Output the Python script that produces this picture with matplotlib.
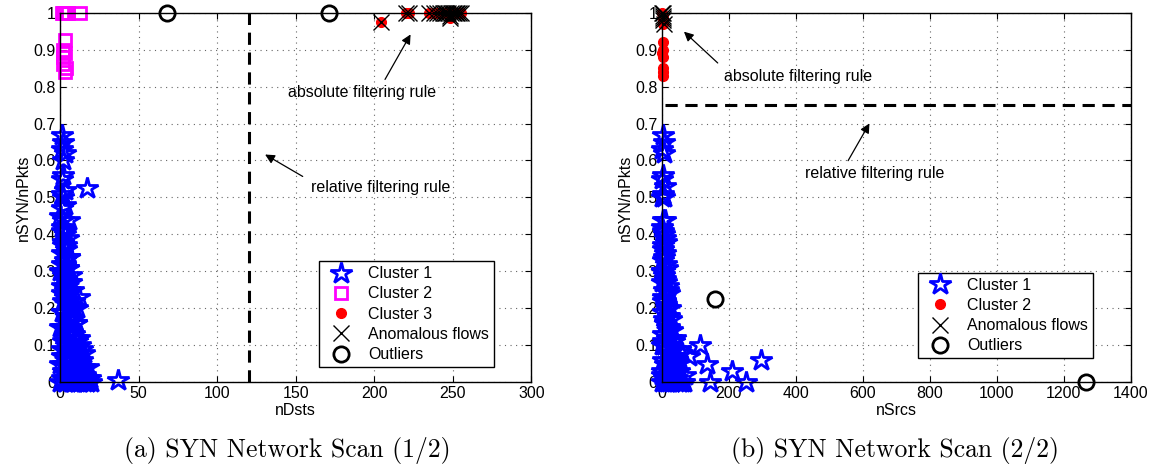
import matplotlib.pyplot as plt
from matplotlib.lines import Line2D

plt.rcParams['font.family'] = ['Liberation Sans', 'DejaVu Sans']
plt.rcParams['font.size'] = 11.5

# ---- panel (a): nDsts vs nSYN/nPkts ----
a_c1_x = [1, 2, 1, 3, 2, 1, 3, 1, 2, 17, 2, 6, 1, 3, 2, 4, 1, 3, 5, 2, 4, 7, 1, 3, 6, 12, 2, 5,
          9, 11, 1, 4, 7, 10, 2, 6, 9, 12, 3, 8, 13, 1, 5, 10, 14, 2, 7, 11, 16, 19, 4, 8, 13,
          37, 0, 1, 2, 0, 0, 0, 15, 12, 6, 3, 5, 8, 10, 0, 4, 6, 9, 17, 18, 14, 3,
          1, 3, 5, 2, 4, 6, 1, 3, 5, 7, 2, 4, 6, 8, 1, 3, 5, 7, 9, 2, 4, 6, 8, 10, 1, 3, 5,
          7, 9, 11, 2, 4, 6, 8, 10, 12, 1, 3, 5, 7, 9, 11, 13, 15, 2, 4, 6, 8, 10, 12, 14, 16,
          18, 1, 3, 5, 7, 9, 11, 13, 15, 17, 20, 4, 8, 12]
a_c1_y = [0.67, 0.65, 0.63, 0.62, 0.56, 0.55, 0.52, 0.51, 0.50, 0.525, 0.44, 0.44, 0.42, 0.40,
          0.38, 0.36, 0.35, 0.33, 0.31, 0.30, 0.28, 0.27, 0.26, 0.25, 0.24, 0.23, 0.22, 0.21,
          0.20, 0.20, 0.19, 0.18, 0.17, 0.16, 0.15, 0.14, 0.13, 0.12, 0.11, 0.10, 0.10, 0.09,
          0.08, 0.07, 0.06, 0.05, 0.04, 0.03, 0.02, 0.01, 0.01, 0.0, 0.0, 0.005, 0.0, 0.47,
          0.60, 0.45, 0.30, 0.15, 0.08, 0.04, 0.06, 0.0, 0.02, 0.05, 0.12, 0.05, 0.26, 0.34,
          0.22, 0.0, 0.04, 0.09, 0.48,
          0.41, 0.41, 0.39, 0.37, 0.37, 0.34, 0.32, 0.32, 0.31, 0.29, 0.29, 0.28, 0.27, 0.25,
          0.24, 0.23, 0.22, 0.21, 0.20, 0.19, 0.18, 0.18, 0.17, 0.16, 0.15, 0.14, 0.13, 0.13,
          0.12, 0.11, 0.11, 0.10, 0.09, 0.09, 0.08, 0.08, 0.07, 0.07, 0.06, 0.06, 0.05, 0.05,
          0.04, 0.04, 0.03, 0.03, 0.03, 0.02, 0.02, 0.02, 0.02, 0.01, 0.01, 0.01, 0.01, 0.01,
          0.0, 0.0, 0.0, 0.0, 0.0, 0.0, 0.0, 0.0, 0.0, 0.01]
a_c2_x = [1, 2, 3, 4, 5, 13, 3, 2, 3, 2, 4, 3, 2]
a_c2_y = [1.0, 1.0, 1.0, 1.0, 1.0, 1.0, 0.925, 0.90, 0.89, 0.88, 0.85, 0.84, 0.86]
a_c3_x = [204, 220, 222, 235, 238, 240, 242, 244, 245, 246, 247, 248, 249, 250, 251, 252, 253,
          254, 255, 248]
a_c3_y = [0.975, 1.0, 1.0, 1.0, 1.0, 1.0, 1.0, 1.0, 1.0, 1.0, 1.0, 0.99, 1.0, 1.0, 1.0, 1.0,
          1.0, 1.0, 1.0, 0.985]
a_out_x = [68, 171]
a_out_y = [1.0, 1.0]
a_rule_x = 120

# ---- panel (b): nSrcs vs nSYN/nPkts ----
b_c1_x = [3, 6, 2, 8, 5, 2, 9, 3, 6, 4, 10, 2, 7, 12, 4, 9, 3, 14, 6, 11, 2, 17, 8, 20, 5, 13,
          24, 3, 18, 27, 9, 22, 30, 4, 15, 35, 26, 7, 40, 19, 33, 45, 11, 28, 50, 2, 38, 55, 16,
          60, 80, 115, 135, 145, 210, 250, 295, 65, 30, 45, 10, 0, 0, 0, 1, 40, 55, 20, 70,
          5, 10, 3, 8, 13, 2, 7, 12, 17, 4, 9, 14, 20, 6, 11, 16, 22, 28, 3, 8, 14, 20, 26,
          32, 5, 12, 18, 25, 32, 40, 2, 9, 16, 24, 34, 44, 6, 14, 22, 31, 42, 52, 60]
b_c1_y = [0.67, 0.65, 0.63, 0.62, 0.56, 0.55, 0.53, 0.51, 0.50, 0.44, 0.44, 0.42, 0.40, 0.38,
          0.36, 0.35, 0.33, 0.31, 0.30, 0.28, 0.27, 0.26, 0.25, 0.24, 0.22, 0.21, 0.20, 0.19,
          0.18, 0.17, 0.16, 0.15, 0.14, 0.13, 0.12, 0.11, 0.10, 0.10, 0.09, 0.08, 0.07, 0.06,
          0.05, 0.04, 0.03, 0.02, 0.01, 0.0, 0.0, 0.08, 0.07, 0.10, 0.05, 0.0, 0.03, 0.0, 0.06,
          0.0, 0.0, 0.05, 0.0, 0.5, 0.3, 0.1, 0.0, 0.12, 0.09, 0.06, 0.02,
          0.41, 0.39, 0.37, 0.34, 0.32, 0.30, 0.29, 0.27, 0.25, 0.23, 0.22, 0.20, 0.18, 0.17,
          0.16, 0.15, 0.14, 0.12, 0.11, 0.10, 0.09, 0.08, 0.07, 0.06, 0.06, 0.05, 0.05, 0.04,
          0.04, 0.03, 0.03, 0.02, 0.02, 0.02, 0.01, 0.01, 0.01, 0.01, 0.0, 0.0, 0.0, 0.0, 0.0]
b_c2_x = [3, 5, 4, 2, 3, 4, 3, 2, 3, 5, 4]
b_c2_y = [0.92, 0.90, 0.88, 0.89, 0.85, 0.84, 0.83, 1.0, 0.99, 0.98, 0.97]
b_an_x = [2, 4, 3, 5, 6, 3]
b_an_y = [1.0, 1.0, 0.99, 0.98, 0.97, 0.985]
b_out_x = [160, 1265]
b_out_y = [0.225, 0.0]
b_rule_y = 0.75

yticks = [0, 0.1, 0.2, 0.3, 0.4, 0.5, 0.6, 0.7, 0.8, 0.9, 1]
ylabels = ['0', '0.1', '0.2', '0.3', '0.4', '0.5', '0.6', '0.7', '0.8', '0.9', '1']

star = dict(marker='*', ms=16, mfc='none', mec='#0000ff', mew=2, ls='none', clip_on=False)
square = dict(marker='s', ms=9, mfc='none', mec='#ff00ff', mew=2, ls='none', clip_on=False)
dot = dict(marker='o', ms=7, mfc='#ff0000', mec='#ff0000', ls='none', clip_on=False)
cross = dict(marker='x', ms=11, mec='black', mew=1, ls='none', clip_on=False)
circ = dict(marker='o', ms=11, mfc='none', mec='black', mew=2, ls='none', clip_on=False)

fig = plt.figure(figsize=(11.55, 4.74), dpi=100)
ax1 = fig.add_axes([0.052, 0.194, 0.408, 0.779])
ax2 = fig.add_axes([0.573, 0.194, 0.406, 0.779])


def style(ax, xmax, xstep, xlabel):
    ax.set_xlim(0, xmax)
    ax.set_ylim(0, 1)
    ax.set_xticks(range(0, xmax + 1, xstep))
    ax.set_yticks(yticks)
    ax.set_yticklabels(ylabels)
    ax.grid(True, ls=(0, (1, 4)), color='0.4', lw=0.8)
    ax.set_axisbelow(True)
    ax.tick_params(direction='in', top=True, right=True, length=4, pad=3)
    ax.set_xlabel(xlabel, labelpad=1)
    ax.set_ylabel('nSYN/nPkts', labelpad=2)
    for s in ax.spines.values():
        s.set_linewidth(1)


arrow = dict(arrowstyle='-|>', color='black', lw=0.9, mutation_scale=14)
leg_kw = dict(loc='lower right', fancybox=False, edgecolor='black', framealpha=1,
              borderpad=0.3, labelspacing=0.33, handletextpad=0.6, handlelength=2.2)

# panel (a)
ax1.plot(a_c1_x, a_c1_y, **star)
ax1.plot(a_c2_x, a_c2_y, **square)
ax1.plot(a_c3_x, a_c3_y, **dot)
ax1.plot(a_c3_x, a_c3_y, **cross)
ax1.plot(a_out_x, a_out_y, **circ)
ax1.axvline(a_rule_x, color='black', lw=2.2, ls=(0, (4, 2.5)))
style(ax1, 300, 50, 'nDsts')
ax1.annotate('', xy=(129, 0.62), xytext=(156, 0.553), arrowprops=arrow)
ax1.text(204, 0.526, 'relative filtering rule', ha='center', va='center')
ax1.annotate('', xy=(224, 0.948), xytext=(206, 0.813), arrowprops=arrow)
ax1.text(192, 0.783, 'absolute filtering rule', ha='center', va='center')

h1 = [Line2D([], [], **star), Line2D([], [], **square), Line2D([], [], **dot),
      Line2D([], [], **cross), Line2D([], [], **circ)]
leg = ax1.legend(h1, ['Cluster 1', 'Cluster 2', 'Cluster 3', 'Anomalous flows', 'Outliers'],
                 bbox_to_anchor=(0.938, 0.019), **leg_kw)
leg.get_frame().set_linewidth(1)

# panel (b)
ax2.plot(b_c1_x, b_c1_y, **star)
ax2.plot(b_c2_x, b_c2_y, **dot)
ax2.plot(b_an_x, b_an_y, **cross)
ax2.plot(b_out_x, b_out_y, **circ)
ax2.plot([10, 1400], [b_rule_y, b_rule_y], color='black', lw=2.2, ls=(0, (4, 2.5)))
style(ax2, 1400, 200, 'nSrcs')
ax2.annotate('', xy=(60, 0.954), xytext=(173, 0.859), arrowprops=arrow)
ax2.text(406, 0.827, 'absolute filtering rule', ha='center', va='center')
ax2.annotate('', xy=(624, 0.707), xytext=(552, 0.593), arrowprops=arrow)
ax2.text(636, 0.566, 'relative filtering rule', ha='center', va='center')

h2 = [Line2D([], [], **star), Line2D([], [], **dot), Line2D([], [], **cross),
      Line2D([], [], **circ)]
leg = ax2.legend(h2, ['Cluster 1', 'Cluster 2', 'Anomalous flows', 'Outliers'],
                 bbox_to_anchor=(0.936, 0.043), **leg_kw)
leg.get_frame().set_linewidth(1)

# captions
fig.text(0.249, 0.05, '(a) SYN Network Scan (1/2)', family='cmr10', fontsize=18.5,
         ha='center', va='center')
fig.text(0.775, 0.05, '(b) SYN Network Scan (2/2)', family='cmr10', fontsize=18.5,
         ha='center', va='center')

fig.savefig('out.png', dpi=100)
